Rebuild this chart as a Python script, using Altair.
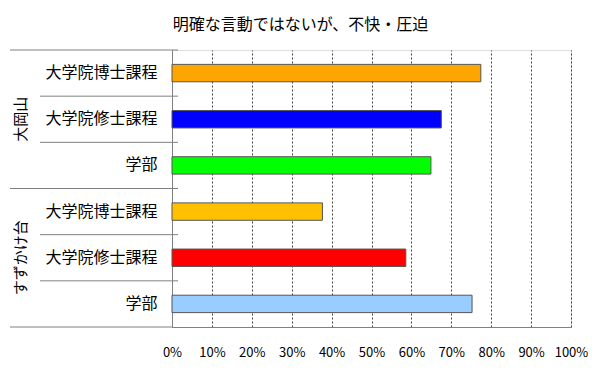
import json
import altair as alt
import pandas as pd

title = "明確な言動ではないが、不快・圧迫"
groups = ["大岡山", "すずかけ台"]
categories = ["大学院博士課程", "大学院修士課程", "学部", "大学院博士課程", "大学院修士課程", "学部"]
values = [0.774, 0.675, 0.649, 0.377, 0.586, 0.752]
colors = ["#FFA500", "#0000FF", "#00FF00", "#FFC000", "#FF0000", "#99CCFF"]
tick_values = [0, 0.1, 0.2, 0.3, 0.4, 0.5, 0.6, 0.7, 0.8, 0.9, 1.0]

rows = [f"r{i}" for i in range(len(categories))]
FONT = "Noto Sans CJK JP"

df = pd.DataFrame({"row": rows, "value": values, "color": colors})
label_expr = json.dumps(dict(zip(rows, categories)), ensure_ascii=False) + "[datum.value]"

yscale = alt.Scale(domain=rows, paddingInner=0, paddingOuter=0)

y_enc = alt.Y(
    "row:N",
    sort=rows,
    scale=yscale,
    axis=alt.Axis(
        title=None, labelExpr=label_expr, ticks=False, domainColor="#808080",
        labelFontSize=16, labelPadding=15, labelColor="black", labelFont=FONT, grid=False,
    ),
)
x_enc = alt.X(
    "value:Q",
    scale=alt.Scale(domain=[0, 1]),
    axis=alt.Axis(
        title=None, format="%", values=tick_values, grid=True, gridDash=[2, 2],
        gridColor="#404040", ticks=False, domainColor="#808080", labelFontSize=13,
        labelPadding=19, labelColor="black", labelFont=FONT, labelOverlap=False,
        labelFlush=False,
    ),
)

bars = alt.Chart(df).mark_bar(
    height=alt.RelativeBandSize(0.377), stroke="#555555", strokeWidth=1
).encode(
    x=x_enc,
    y=y_enc,
    fill=alt.Fill("color:N", scale=None),
)

group_df = pd.DataFrame({"row": [rows[1], rows[4]], "group": groups})
group_text = alt.Chart(group_df).mark_text(
    angle=270, fontSize=15, font=FONT, color="black", align="center", baseline="middle"
).encode(
    x=alt.value(-151),
    y=alt.Y("row:N", sort=rows, scale=yscale),
    text="group:N",
)

inner_df = pd.DataFrame({"row": [rows[1], rows[2], rows[4], rows[5]]})
inner_rules = alt.Chart(inner_df).mark_rule(color="#808080", strokeWidth=1).encode(
    x=alt.value(-132), x2=alt.value(6),
    y=alt.Y("row:N", sort=rows, scale=yscale, bandPosition=0),
)

group_df2 = pd.DataFrame({"row": [rows[0], rows[3]]})
group_rules = alt.Chart(group_df2).mark_rule(color="#808080", strokeWidth=1).encode(
    x=alt.value(-162), x2=alt.value(6),
    y=alt.Y("row:N", sort=rows, scale=yscale, bandPosition=0),
)

bottom_df = pd.DataFrame({"row": [rows[-1]]})
bottom_rule = alt.Chart(bottom_df).mark_rule(color="#808080", strokeWidth=1).encode(
    x=alt.value(-162), x2=alt.value(0),
    y=alt.Y("row:N", sort=rows, scale=yscale, bandPosition=1),
)

chart = alt.layer(bars, inner_rules, group_rules, bottom_rule, group_text).properties(
    width=399,
    height=277,
    title=alt.TitleParams(title, fontSize=16, fontWeight="normal", font=FONT, color="black",
                          dx=-71, offset=17),
    autosize=alt.AutoSizeParams(type="none"),
    padding={"left": 164, "top": 42, "right": 21, "bottom": 37},
).configure_view(stroke=None).configure(background="white")

chart.save("out.html", embed_options={"renderer": "svg", "actions": False})
